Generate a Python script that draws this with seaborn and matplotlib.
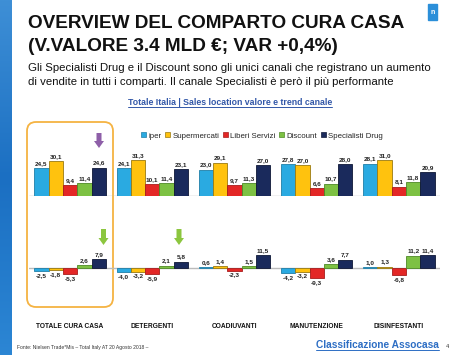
import numpy as np
import pandas as pd
import matplotlib
matplotlib.use("Agg")
import matplotlib.pyplot as plt
import seaborn as sns
from matplotlib.patches import Patch, FancyBboxPatch, FancyArrow, Rectangle
from matplotlib.lines import Line2D
from matplotlib.colors import LinearSegmentedColormap

# ---------------- data ----------------
categories = ["TOTALE CURA CASA", "DETERGENTI", "COADIUVANTI", "MANUTENZIONE", "DISINFESTANTI"]
channels = ["iper", "Supermercati", "Liberi Servizi", "Discount", "Specialisti Drug"]

share_iper = [24.5, 24.1, 23.0, 27.8, 28.1]
share_super = [30.1, 31.3, 29.1, 27.0, 31.0]
share_ls = [9.4, 10.1, 9.7, 6.6, 8.1]
share_discount = [11.4, 11.4, 11.3, 10.7, 11.8]
share_spec = [24.6, 23.1, 27.0, 28.0, 20.9]

trend_iper = [-2.5, -4.0, 0.6, -4.2, 1.0]
trend_super = [-1.8, -3.2, 1.4, -3.2, 1.3]
trend_ls = [-5.3, -5.9, -2.3, -9.3, -6.8]
trend_discount = [2.6, 2.1, 1.5, 3.6, 11.2]
trend_spec = [7.9, 5.8, 11.5, 7.7, 11.4]

colors = ["#2AAAE1", "#FFC20E", "#E32726", "#7DC143", "#1A2A5C"]
edge_colors = ["#1F7FA8", "#9A7A10", "#A81C1C", "#4E8A26", "#0E1736"]

share_series = [share_iper, share_super, share_ls, share_discount, share_spec]
trend_series = [trend_iper, trend_super, trend_ls, trend_discount, trend_spec]


def long_df(series):
    rows = []
    for ch, vals in zip(channels, series):
        for cat, v in zip(categories, vals):
            rows.append({"cat": cat, "channel": ch, "value": v})
    return pd.DataFrame(rows)


df_share = long_df(share_series)
df_trend = long_df(trend_series)

# ---------------- figure ----------------
sns.set_theme(style="white")
plt.rcParams["font.family"] = ["Liberation Sans", "DejaVu Sans"]

W, H = 453, 355
fig = plt.figure(figsize=(W / 100, H / 100), dpi=100)
fig.patch.set_facecolor("white")


def px_axes(x0, y0, x1, y1, **kw):
    return fig.add_axes([x0 / W, 1 - y1 / H, (x1 - x0) / W, (y1 - y0) / H], **kw)


ax_left, ax_right = 29, 440

# upper chart (share)
ax1 = px_axes(ax_left, 150, ax_right, 196)
sns.barplot(data=df_share, x="cat", y="value", hue="channel", hue_order=channels,
            order=categories, palette=colors, width=0.87, ax=ax1, legend=False,
            saturation=1, linewidth=0.6)
ax1.set_ylim(0, 40)
ax1.set_xlim(-0.5, 4.5)

# lower chart (trend)
ax2 = px_axes(ax_left, 240, ax_right, 290)
sns.barplot(data=df_trend, x="cat", y="value", hue="channel", hue_order=channels,
            order=categories, palette=colors, width=0.87, ax=ax2, legend=False,
            saturation=1, linewidth=0.6)
ax2.set_ylim(-20, 25.45)
ax2.set_xlim(-0.5, 4.5)

for ax in (ax1, ax2):
    for i, cont in enumerate(ax.containers):
        for bar in cont:
            bar.set_edgecolor(edge_colors[i])
        labels = [f"{b.get_height():.1f}".replace(".", ",") for b in cont]
        ax.bar_label(cont, labels=labels, fontsize=4.6, fontweight="bold",
                     padding=1.5, color="#222222")
    ax.axhline(0, color="#BBBBBB", lw=1.0, zorder=0.5)
    ax.axis("off")

# overlay in pixel coordinates
ov = fig.add_axes([0, 0, 1, 1], zorder=-1)
ov.set_xlim(0, W)
ov.set_ylim(H, 0)
ov.axis("off")
top = fig.add_axes([0, 0, 1, 1], zorder=5)
top.set_xlim(0, W)
top.set_ylim(H, 0)
top.axis("off")
top.patch.set_alpha(0)

# left blue stripe with gradient
grad = np.linspace(0, 1, 256).reshape(-1, 1)
cmap = LinearSegmentedColormap.from_list("stripe", ["#3E8FD6", "#1B6FC2", "#2C86D4"])
ov.imshow(grad, extent=[0, 12, H, 0], aspect="auto", cmap=cmap, zorder=0)

# top-right logo
ov.add_patch(Rectangle((428, 4), 9, 16, color="#2B8FD9", zorder=1))
ov.text(432.5, 13, "n", color="white", fontsize=5, ha="center", va="center", fontweight="bold")

# titles
top.text(28, 28, "OVERVIEW DEL COMPARTO CURA CASA", fontsize=13.7, fontweight="bold",
         color="#111111", va="baseline")
top.text(28, 51, "(V.VALORE 3.4 MLD €; VAR +0,4%)", fontsize=13.7, fontweight="bold",
         color="#111111", va="baseline")
top.text(28, 71, "Gli Specialisti Drug e il Discount sono gli unici canali che registrano un aumento",
         fontsize=8.2, color="#111111", va="baseline")
top.text(28, 85, "di vendite in tutti i comparti. Il canale Specialisti è però il più performante",
         fontsize=8.2, color="#111111", va="baseline")

sub = top.text(230, 105, "Totale Italia | Sales location valore e trend canale", fontsize=6.3,
               fontweight="bold", color="#3257A8", va="baseline", ha="center")
cls = top.text(316, 348, "Classificazione Assocasa", fontsize=7.3, fontweight="bold",
               color="#2D6EC4", va="baseline", ha="left")
top.text(446, 348, "4", fontsize=4, color="#333333", va="baseline")
top.text(17, 349, "Fonte: Nielsen Trade*Mis – Total Italy AT 20 Agosto 2018 –", fontsize=3.6,
         color="#333333", va="baseline")

# category labels
centers = [70, 152, 234, 316, 399]
for cx, cat in zip(centers, categories):
    top.text(cx, 328, cat, fontsize=4.8, fontweight="bold", color="#111111",
             ha="center", va="baseline")

# legend
handles = [Patch(facecolor=c, edgecolor=e, linewidth=0.5) for c, e in zip(colors, edge_colors)]
fig.legend(handles, channels, loc="center", bbox_to_anchor=(262 / W, 1 - 136 / H), ncol=5,
           frameon=False, fontsize=5.7, handlelength=0.6, handleheight=0.6,
           handletextpad=0.3, columnspacing=0.5, borderpad=0)

# orange frame
ov.add_patch(FancyBboxPatch((27, 122), 86, 185, boxstyle="round,pad=0,rounding_size=9",
                            fill=False, edgecolor="#F5B342", lw=1.3, zorder=2))

# arrows
top.add_patch(FancyArrow(99, 133, 0, 15, width=5, head_width=10, head_length=7,
                         length_includes_head=True, color="#8E5FA8", lw=0))
for ax_x in (103.5, 179):
    top.add_patch(FancyArrow(ax_x, 229, 0, 16, width=5, head_width=10, head_length=7,
                             length_includes_head=True, color="#8CC63F", lw=0))

# underline texts
fig.canvas.draw()
inv = top.transData.inverted()
for t, col in ((sub, "#3257A8"), (cls, "#2D6EC4")):
    bb = t.get_window_extent()
    (x0, y0), (x1, y1) = inv.transform([(bb.x0, bb.y0), (bb.x1, bb.y1)])
    top.add_line(Line2D([x0, x1], [y0 - 0.2, y0 - 0.2], color=col, lw=0.7))

fig.savefig("out.png", dpi=100)
